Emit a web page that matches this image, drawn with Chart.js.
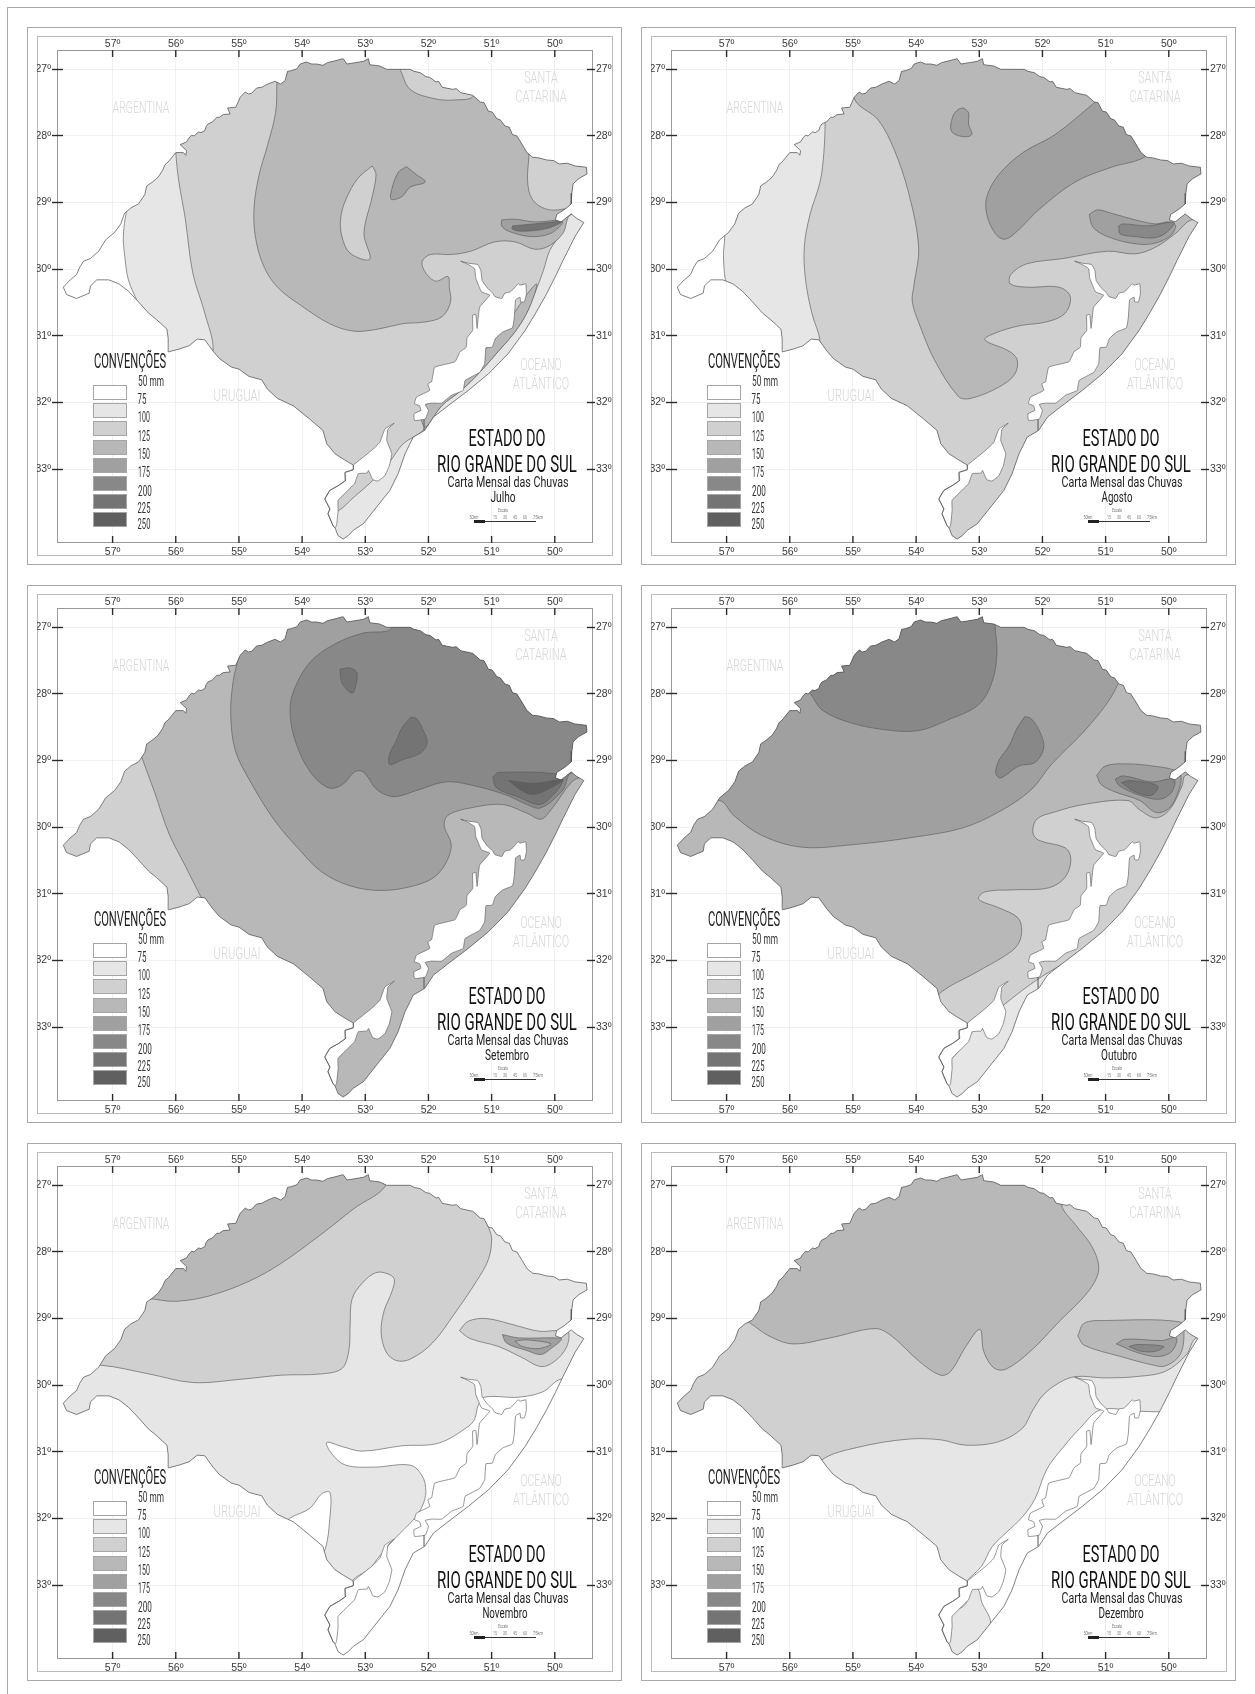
<!DOCTYPE html>
<html lang="pt">
<head>
<meta charset="utf-8">
<title>Carta Mensal das Chuvas</title>
<script src="https://cdn.jsdelivr.net/npm/chart.js"></script>
<style>
  html, body { margin: 0; background: #fff; }
  body { position: relative; width: 1255px; height: 1694px; overflow: hidden; font-family: Roboto, sans-serif; }
  .box { position: absolute; box-sizing: border-box; }
  .panel { position: absolute; width: 640px; height: 570px; }
  .panel canvas { position: absolute; left: 37px; top: 36px; }
  .txt { position: absolute; white-space: nowrap; line-height: 1; font-weight: 400; }
</style>
</head>
<body>
<div class="box" style="left:7px;top:7px;width:1300px;height:1800px;border:1.2px solid #aaa"></div>
<script>
const lonTicks = [57, 56, 55, 54, 53, 52, 51, 50];
const latTicks = [27, 28, 29, 30, 31, 32, 33];
const months = ['Julho', 'Agosto', 'Setembro', 'Outubro', 'Novembro', 'Dezembro'];
const legendLabels = ['50 mm', '75', '100', '125', '150', '175', '200', '225', '250'];
const bandShades = ['#ffffff', '#e6e6e6', '#d0d0d0', '#b8b8b8', '#a0a0a0', '#888888', '#747474', '#606060'];
const baseBands = [0, 0, 2, 1, 0, 0];

const stateOutline = [57.78,30.27, 57.67,30.16, 57.57,30.08, 57.52,29.97, 57.46,29.88, 57.35,29.84, 57.22,29.73, 57.11,29.56, 56.97,29.45, 56.87,29.32,
  56.81,29.16, 56.71,29.08, 56.59,29.02, 56.49,28.88, 56.46,28.75, 56.38,28.70, 56.28,28.62, 56.21,28.52, 56.17,28.43, 56.12,28.39,
  56.0,28.25, 55.88,28.25, 55.84,28.29, 55.83,28.22, 55.93,28.13, 55.83,28.09, 55.79,28.03, 55.75,27.99, 55.71,28.0, 55.64,27.94,
  55.60,27.95, 55.54,27.92, 55.52,27.86, 55.49,27.82, 55.42,27.79, 55.35,27.72, 55.31,27.72, 55.25,27.68, 55.14,27.67, 55.18,27.58,
  55.05,27.57, 54.98,27.42, 54.90,27.34, 54.85,27.37, 54.80,27.36, 54.72,27.28, 54.64,27.27, 54.54,27.22, 54.43,27.18, 54.34,27.22,
  54.27,27.17, 54.23,27.03, 54.17,27.02, 54.08,26.99, 54.03,26.92, 53.93,26.89, 53.85,26.92, 53.77,26.92, 53.67,26.94, 53.60,26.90,
  53.51,26.88, 53.35,26.84, 53.29,26.92, 53.16,26.90, 53.03,26.88, 52.95,26.84, 52.93,26.93, 52.77,26.95, 52.66,27.0, 52.48,27.0,
  52.29,27.0, 52.23,27.03, 52.13,27.05, 52.04,27.11, 51.98,27.12, 51.88,27.19, 51.84,27.18, 51.78,27.27, 51.62,27.30, 51.56,27.29,
  51.49,27.35, 51.30,27.39, 51.18,27.49, 51.12,27.50, 51.05,27.63, 50.99,27.64, 50.92,27.74, 50.86,27.76, 50.79,27.85, 50.72,27.87,
  50.67,27.98, 50.60,28.0, 50.54,28.09, 50.44,28.25, 50.35,28.32, 50.25,28.33, 50.13,28.36, 50.02,28.37, 49.93,28.42, 49.80,28.41,
  49.68,28.45, 49.50,28.47, 49.49,28.57, 49.62,28.64, 49.71,28.72, 49.73,28.86, 49.74,29.02, 49.84,29.10, 49.97,29.18, 49.99,29.26,
  49.90,29.29, 49.74,29.17, 49.65,29.24, 49.54,29.30, 49.68,29.51, 49.79,29.72, 49.87,29.87, 49.97,30.07, 50.13,30.37, 50.29,30.64,
  50.47,30.92, 50.74,31.27, 51.05,31.57, 51.37,31.82, 51.69,32.05, 51.92,32.22, 52.06,32.42, 52.24,32.52, 52.37,32.77, 52.48,33.07,
  52.61,33.32, 52.82,33.57, 53.03,33.82, 53.19,33.92, 53.27,34.0, 53.35,34.05, 53.43,34.0, 53.48,33.88, 53.51,33.85, 53.59,33.67,
  53.56,33.60, 53.64,33.45, 53.56,33.32, 53.43,33.25, 53.31,33.17, 53.32,33.05, 53.19,33.01, 53.19,32.94, 53.35,32.85, 53.48,32.77,
  53.61,32.62, 53.67,32.42, 53.88,32.25, 54.14,32.05, 54.39,31.94, 54.55,31.80, 54.64,31.66, 54.84,31.61, 55.0,31.50, 55.12,31.47,
  55.31,31.34, 55.41,31.23, 55.54,31.06, 55.66,31.05, 55.79,31.15, 55.95,31.20, 56.11,31.24, 56.12,31.04, 56.14,30.90, 56.30,30.76,
  56.43,30.66, 56.59,30.49, 56.75,30.33, 56.90,30.22, 57.06,30.16, 57.25,30.16, 57.35,30.25, 57.37,30.36, 57.57,30.44, 57.73,30.38];

const lagoaDosPatos = [51.49,29.88, 51.37,29.91, 51.22,29.93, 51.17,30.02, 51.15,30.17, 51.07,30.28, 50.98,30.36, 50.95,30.41, 50.84,30.44, 50.79,30.36,
  50.70,30.34, 50.63,30.27, 50.58,30.22, 50.55,30.24, 50.46,30.22, 50.45,30.37, 50.48,30.49, 50.54,30.49, 50.55,30.42, 50.62,30.46,
  50.64,30.72, 50.67,30.88, 50.82,30.94, 50.94,31.04, 50.99,31.17, 51.09,31.18, 51.11,31.42, 51.19,31.55, 51.42,31.67, 51.45,31.82,
  51.63,31.89, 51.79,32.01, 51.95,32.01, 52.05,32.03, 52.00,32.12, 52.05,32.25, 52.22,32.27, 52.23,32.17, 52.12,32.12, 52.14,32.05,
  52.22,32.02, 52.19,31.92, 51.98,31.82, 52.01,31.72, 51.95,31.69, 51.90,31.47, 51.58,31.39, 51.50,31.24, 51.40,31.17, 51.39,31.03,
  51.30,30.92, 51.30,30.69, 51.25,30.68, 51.23,30.89, 51.19,30.57, 51.03,30.39, 51.16,30.34, 51.25,30.14, 51.27,29.99, 51.37,29.93];
const lagoaMirim = [53.19,32.94, 52.90,32.72, 52.77,32.60, 52.69,32.40, 52.54,32.31, 52.64,32.40, 52.66,32.57, 52.58,32.77, 52.62,32.95, 52.69,33.10,
  52.80,33.18, 52.88,33.16, 52.95,33.02, 52.97,33.06, 53.11,33.07, 53.17,33.22, 53.43,33.47, 53.43,33.62, 53.455,33.85, 53.48,33.88,
  53.51,33.85, 53.59,33.67, 53.56,33.60, 53.64,33.45, 53.56,33.32, 53.43,33.25, 53.31,33.17, 53.32,33.05, 53.19,33.01];
const barraRioGrande = [52.07,32.25, 52.07,32.42];

// [faixa, contorno] na ordem de pintura, cada faixa cobre a anterior
const julhoZones = [
  [1, [56.68,28.80, 56.78,29.13, 56.83,29.51, 56.81,29.78, 56.75,30.16, 56.59,30.52, 56.43,30.87, 56.11,34.15, 49.1,34.15, 49.1,26.5, 56.68,26.5]],
  [2, [56.11,26.51, 56.0,28.25, 55.95,28.69, 55.85,29.24, 55.73,30.06, 55.54,30.66, 55.41,31.23, 55.6,31.42, 54.96,33.06, 53.69,33.71,
    53.43,33.63, 53.19,33.43, 52.88,33.17, 52.62,32.90, 52.40,32.62, 52.08,32.42, 51.79,32.05, 51.48,31.82, 51.19,31.55, 50.90,31.24,
    50.63,30.94, 50.45,30.67, 50.32,30.37, 50.18,30.02, 50.08,29.72, 49.90,29.46, 49.76,29.18, 49.11,29.18, 49.11,26.51]],
  [3, [54.40,26.51, 54.40,27.22, 54.42,27.65, 54.55,28.15, 54.68,28.58, 54.76,29.07, 54.74,29.51, 54.61,29.95, 54.39,30.27, 54.01,30.55,
    53.56,30.82, 53.18,30.93, 52.80,30.90, 52.42,30.82, 52.04,30.79, 51.78,30.71, 51.65,30.49, 51.67,30.27, 51.69,30.11, 51.88,30.18,
    52.04,30.06, 52.10,29.89, 51.97,29.78, 51.65,29.78, 51.33,29.73, 50.95,29.59, 50.63,29.59, 50.32,29.70, 50.09,29.65, 49.87,29.46,
    49.74,29.18, 49.11,29.18, 49.11,26.51]],
  [2, [52.45,27.0, 52.29,27.30, 51.91,27.44, 51.59,27.46, 51.28,27.39, 51.28,26.78, 52.45,26.78]],
  [2, [50.41,28.15, 50.41,28.30, 50.43,28.69, 50.35,28.96, 50.13,29.10, 49.88,29.10, 49.62,29.02, 49.36,28.42]],
  [3, [50.48,30.42, 50.29,30.22, 50.32,30.37, 50.45,30.67, 50.63,30.94, 50.90,31.24, 51.19,31.55, 51.48,31.82, 51.79,32.05, 52.05,32.37,
    52.10,32.10, 51.50,31.60, 51.0,31.10, 50.60,30.60]],
  [2, [52.89,28.45, 53.12,28.64, 53.31,28.96, 53.39,29.24, 53.37,29.51, 53.24,29.76, 52.93,29.85, 53.02,29.46, 52.89,28.91, 52.83,28.58]],
  [4, [52.35,28.46, 52.48,28.55, 52.58,28.80, 52.59,28.95, 52.42,28.91, 52.29,28.77, 52.05,28.69, 52.19,28.58]],
  [4, [50.84,29.26, 50.63,29.25, 50.32,29.29, 49.88,29.28, 50.06,29.46, 50.38,29.51, 50.73,29.43, 50.84,29.35]],
  [6, [50.67,29.35, 50.32,29.32, 49.90,29.29, 50.13,29.39, 50.51,29.43, 50.67,29.40]],
];
const agostoZones = [
  [1, [57.08,26.51, 57.03,29.52, 57.05,29.78, 57.02,30.16, 56.96,30.33, 56.89,34.15, 49.13,34.15, 49.13,26.51]],
  [2, [55.44,26.51, 55.44,27.76, 55.46,28.25, 55.52,28.69, 55.68,29.18, 55.77,29.67, 55.75,30.16, 55.65,30.66, 55.52,31.09, 55.59,31.42,
    55.59,34.15, 49.13,34.15, 49.13,26.51]],
  [3, [54.98,26.51, 54.98,27.43, 54.60,27.76, 54.35,28.20, 54.12,28.85, 53.96,29.67, 54.03,30.22, 54.06,30.49, 53.93,30.87, 53.71,31.36,
    53.33,31.91, 53.14,31.94, 52.69,31.77, 52.44,31.58, 52.40,31.36, 52.53,31.23, 52.91,31.06, 52.75,30.96, 52.37,30.85, 51.93,30.79,
    51.64,30.66, 51.56,30.41, 51.74,30.27, 52.25,30.27, 52.51,30.22, 52.50,30.08, 52.25,29.92, 51.67,29.84, 50.97,29.73, 50.53,29.77,
    50.21,29.67, 49.89,29.46, 49.64,29.26, 49.13,29.24, 49.13,26.51]],
  [4, [51.20,27.52, 51.80,27.98, 52.31,28.25, 52.69,28.58, 52.88,28.91, 52.88,29.18, 52.75,29.46, 52.60,29.55, 52.40,29.43, 52.05,29.10,
    51.48,28.69, 50.91,28.47, 50.37,28.31, 49.89,27.87, 50.85,27.22]],
  [4, [53.25,27.58, 53.33,27.60, 53.42,27.71, 53.44,27.93, 53.26,28.01, 53.12,27.98, 53.17,27.82, 53.17,27.65]],
  [4, [51.26,29.18, 51.13,29.11, 50.91,29.16, 50.53,29.26, 50.21,29.32, 49.99,29.29, 49.89,29.35, 49.99,29.51, 50.27,29.62, 50.59,29.61,
    50.97,29.51, 51.20,29.37]],
  [5, [50.79,29.35, 50.72,29.32, 50.34,29.35, 49.92,29.30, 50.05,29.46, 50.24,29.53, 50.53,29.51, 50.77,29.47]],
];
const setembroZones = [
  [3, [56.55,28.92, 56.33,29.49, 56.11,30.09, 55.85,30.58, 55.60,31.05, 55.41,31.40, 55.41,34.19, 49.11,34.19, 49.11,26.49, 56.55,26.49]],
  [4, [55.01,26.49, 55.01,27.42, 55.09,27.80, 55.13,28.29, 55.06,28.84, 54.84,29.28, 54.45,29.88, 54.07,30.31, 53.69,30.67, 53.24,30.88,
    52.74,30.95, 52.23,30.88, 51.91,30.75, 51.72,30.53, 51.64,30.26, 51.75,29.98, 51.69,29.82, 51.33,29.71, 50.83,29.66, 50.44,29.79,
    50.22,29.88, 50.06,29.74, 49.74,29.33, 49.58,29.25, 49.11,29.23, 49.11,26.49]],
  [5, [52.58,26.49, 52.58,27.01, 53.05,27.09, 53.50,27.26, 53.88,27.53, 54.14,27.97, 54.19,28.29, 54.10,28.73, 53.87,29.17, 53.58,29.41,
    53.36,29.36, 53.17,29.17, 53.03,29.17, 52.81,29.44, 52.54,29.54, 52.16,29.44, 51.72,29.32, 51.27,29.38, 50.76,29.52, 50.44,29.66,
    50.22,29.71, 49.87,29.44, 49.74,29.19, 49.11,29.17, 49.11,26.49]],
  [6, [50.98,29.25, 50.89,29.18, 49.97,29.20, 49.87,29.30, 50.06,29.55, 50.25,29.66, 50.57,29.55, 50.92,29.41]],
  [7, [50.73,29.30, 50.32,29.34, 49.88,29.29, 50.13,29.44, 50.35,29.51, 50.54,29.44]],
  [6, [52.28,28.35, 52.42,28.51, 52.51,28.70, 52.62,28.92, 52.61,29.06, 52.42,28.99, 52.13,28.89, 52.02,28.73, 52.10,28.51, 52.19,28.37]],
  [6, [53.40,27.63, 53.24,27.61, 53.13,27.69, 53.18,27.97, 53.24,27.98, 53.37,27.83]],
];
const outubroZones = [
  [2, [51.64,32.03, 52.07,32.28, 52.60,32.66, 52.79,32.85, 53.04,32.99, 53.26,33.29, 53.55,33.59, 53.77,33.86, 58.16,33.86, 58.16,26.49, 49.13,26.49, 49.13,32.03]],
  [3, [58.16,26.49, 58.16,32.77, 53.84,32.77, 53.61,32.48, 53.07,32.19, 52.53,31.89, 52.37,31.73, 52.33,31.51, 52.40,31.35, 52.69,31.21,
    53.01,31.08, 52.91,30.97, 52.44,30.94, 51.90,30.91, 51.64,30.75, 51.55,30.48, 51.64,30.31, 52.05,30.20, 52.15,30.09, 52.09,29.88,
    51.80,29.77, 51.35,29.66, 50.65,29.60, 50.46,29.74, 50.21,29.86, 49.99,29.74, 49.79,29.38, 49.73,29.22, 49.13,29.17, 49.13,26.49]],
  [4, [58.16,26.49, 58.16,29.60, 57.11,29.60, 56.89,29.82, 56.45,30.12, 55.81,30.30, 54.98,30.26, 54.03,30.15, 53.26,30.01, 52.69,29.77,
    52.18,29.44, 51.86,29.06, 51.35,28.57, 50.97,28.13, 50.78,27.80, 50.59,27.31, 50.59,26.49]],
  [5, [55.81,26.49, 55.81,27.91, 55.68,27.99, 55.49,28.24, 55.05,28.43, 54.47,28.54, 53.96,28.55, 53.52,28.40, 53.01,28.16, 52.79,27.80,
    52.72,27.37, 52.75,26.98, 52.75,26.49]],
  [5, [52.28,28.34, 52.40,28.51, 52.53,28.78, 52.69,29.0, 52.74,29.19, 52.66,29.26, 52.37,29.08, 52.12,29.03, 51.98,28.81, 52.04,28.57, 52.18,28.37]],
  [4, [51.14,29.22, 51.0,29.08, 50.65,29.05, 50.27,29.08, 49.92,29.14, 49.81,29.22, 49.84,29.44, 49.99,29.71, 50.20,29.78, 50.46,29.60,
    50.85,29.47, 51.07,29.36]],
  [5, [50.85,29.28, 50.72,29.23, 50.27,29.32, 49.92,29.28, 49.95,29.47, 50.14,29.58, 50.46,29.52, 50.78,29.38]],
  [6, [50.75,29.33, 50.62,29.30, 50.18,29.38, 50.27,29.52, 50.53,29.47]],
];
const novembroZones = [
  [1, [58.15,26.48, 49.11,26.48, 49.11,29.91, 49.90,29.91, 50.19,30.10, 50.57,30.18, 51.11,30.18, 51.21,30.30, 51.27,30.51, 51.37,30.62,
    51.84,30.87, 52.42,30.91, 53.05,30.99, 53.37,30.92, 53.61,30.86, 53.53,31.03, 53.31,31.20, 52.86,31.23, 52.29,31.20, 52.10,31.36,
    52.04,31.60, 52.10,31.82, 52.23,32.01, 52.54,32.31, 52.77,32.56, 52.93,32.75, 53.18,32.91, 53.31,33.08, 53.75,32.64, 53.63,32.45,
    53.56,31.99, 53.56,31.61, 53.69,31.63, 53.88,31.85, 54.20,32.0, 54.33,32.15, 58.15,32.15]],
  [2, [51.06,26.48, 51.06,27.57, 51.0,27.79, 51.05,28.11, 51.24,28.44, 51.59,28.93, 51.94,29.37, 52.29,29.61, 52.51,29.63, 52.67,29.50,
    52.75,29.20, 52.70,28.88, 52.58,28.60, 52.54,28.41, 52.64,28.33, 52.83,28.31, 53.05,28.47, 53.21,28.71, 53.24,29.10, 53.26,29.48,
    53.37,29.75, 53.69,29.83, 54.33,29.85, 54.96,29.91, 55.73,29.96, 56.43,29.83, 57.19,29.70, 58.15,29.70, 58.15,26.48]],
  [3, [56.49,26.48, 56.49,28.66, 56.33,28.71, 55.98,28.74, 55.47,28.66, 54.84,28.44, 54.33,28.17, 53.69,27.73, 53.18,27.35, 52.67,26.99, 52.67,26.48]],
  [2, [51.51,29.18, 51.37,29.04, 51.08,29.0, 50.63,29.10, 50.25,29.19, 49.97,29.18, 49.79,29.19, 49.81,29.42, 50.0,29.64, 50.22,29.72,
    50.51,29.59, 50.89,29.42, 51.34,29.30]],
  [4, [50.83,29.24, 50.57,29.29, 49.97,29.29, 49.89,29.31, 50.06,29.45, 50.22,29.54, 50.44,29.48, 50.76,29.37]],
  [3, [50.63,29.34, 50.44,29.32, 50.06,29.38, 50.25,29.45, 50.51,29.42]],
];
const dezembroZones = [
  [1, [58.15,26.49, 48.95,26.49, 48.95,30.40, 50.13,30.40, 50.50,30.39, 51.08,30.37, 51.41,30.65, 51.67,30.93, 51.93,31.26, 52.12,31.71,
    52.32,31.98, 52.57,32.21, 52.80,32.43, 52.96,32.71, 53.19,32.93, 53.35,33.10, 53.87,32.60, 58.15,32.60]],
  [1, [53.42,33.40, 53.22,33.29, 53.13,33.05, 53.02,33.06, 52.96,33.26, 52.82,33.57, 52.96,34.26, 53.74,34.26, 53.61,33.71]],
  [2, [58.15,26.49, 48.95,26.49, 48.95,29.26, 49.56,29.29, 49.72,29.54, 50.05,29.79, 50.50,29.87, 51.02,29.89, 51.47,29.87, 51.73,29.96,
    51.99,30.15, 52.15,30.37, 52.32,30.65, 52.70,30.85, 53.22,30.90, 53.61,30.82, 54.13,30.81, 54.91,30.93, 55.49,31.12, 55.56,31.37, 58.15,31.37]],
  [3, [56.79,26.49, 56.79,28.99, 56.64,29.06, 56.33,29.26, 55.95,29.38, 55.36,29.29, 54.65,29.15, 54.39,29.26, 53.94,29.65, 53.61,29.85,
    53.45,29.79, 53.22,29.43, 52.99,29.16, 52.93,29.49, 52.77,29.74, 52.58,29.76, 52.19,29.49, 51.73,29.04, 51.28,28.60, 51.11,28.27,
    51.21,27.93, 51.47,27.60, 51.70,27.29, 51.73,26.49]],
  [3, [51.44,29.26, 51.34,29.07, 51.02,29.03, 49.82,29.05, 49.76,29.21, 49.82,29.54, 50.05,29.71, 50.24,29.70, 50.76,29.57, 51.34,29.40]],
  [4, [50.83,29.38, 50.69,29.31, 50.11,29.33, 49.88,29.29, 49.95,29.49, 50.17,29.57, 50.50,29.51]],
  [5, [50.63,29.42, 50.50,29.39, 50.08,29.42, 50.21,29.49, 50.44,29.49]],
];
const monthZones = [julhoZones, agostoZones, setembroZones, outubroZones, novembroZones, dezembroZones];

const panelOrigins = [[0, 0], [614, 0], [0, 558], [614, 558], [0, 1116], [614, 1116]];
const monthCenters = [[503, 25], [503, 31], [507, 44], [505, 36], [505, 45], [507, 45]];

const toPoints = flat => {
  const out = [];
  for (let i = 0; i < flat.length; i += 2) out.push({ x: flat[i], y: flat[i + 1] });
  return out;
};
const closed = flat => toPoints(flat.concat(flat[0], flat[1]));

// recorta as faixas de chuva pelo contorno do estado
const stateClip = {
  id: 'stateClip',
  beforeDatasetsDraw(chart) {
    const { ctx, scales } = chart;
    ctx.save();
    ctx.beginPath();
    toPoints(stateOutline).forEach((p, i) => {
      const px = scales.x.getPixelForValue(p.x), py = scales.y.getPixelForValue(p.y);
      i ? ctx.lineTo(px, py) : ctx.moveTo(px, py);
    });
    ctx.closePath();
    ctx.clip();
  },
  afterDatasetDraw(chart, args) {
    if (chart.data.datasets[args.index].endsClip) chart.ctx.restore();
  },
};

// tracinhos das longitudes, para dentro do quadro em cima e embaixo
const lonMarks = {
  id: 'lonMarks',
  afterDatasetsDraw(chart) {
    const { ctx, scales, chartArea } = chart;
    ctx.save();
    ctx.strokeStyle = '#2b2b2b';
    ctx.lineWidth = 1.4;
    lonTicks.forEach(v => {
      const px = scales.x.getPixelForValue(v);
      ctx.beginPath();
      ctx.moveTo(px, chartArea.top);
      ctx.lineTo(px, chartArea.top + 7);
      ctx.moveTo(px, chartArea.bottom - 7);
      ctx.lineTo(px, chartArea.bottom);
      ctx.stroke();
    });
    ctx.restore();
  },
};

function shape(flat, fillColor, extra) {
  return {
    data: closed(flat), showLine: true, fill: fillColor ? 'shape' : false,
    backgroundColor: fillColor || 'transparent', borderColor: '#5c5c5c', borderWidth: 0.65,
    pointRadius: 0, tension: 0.35, capBezierPoints: false, clip: false, ...extra,
  };
}

function axisFor(axis, position, ticks, size, tickLength, padding, onArea, min, max) {
  return {
    type: 'linear', axis, position, min, max, reverse: axis === 'x',
    afterBuildTicks: s => { s.ticks = ticks.map(v => ({ value: v })); },
    afterFit: s => { if (axis === 'x') s.height = size; else s.width = size; },
    border: { display: false },
    grid: { color: '#ececec', lineWidth: 0.8, drawOnChartArea: onArea, drawTicks: axis === 'y', tickColor: '#2b2b2b', tickWidth: 1.4, tickLength },
    ticks: { autoSkip: false, maxRotation: 0, padding, color: '#3a3a3a',
      font: { family: "'Liberation Sans'", size: 10.5 }, callback: v => v + 'º' },
  };
}

function addText(parent, text, cx, cy, size, width, color, weight) {
  const el = document.createElement('span');
  el.className = 'txt';
  el.textContent = text;
  el.style.fontSize = size + 'px';
  el.style.color = color;
  if (weight) el.style.fontWeight = weight;
  parent.appendChild(el);
  const k = width / el.offsetWidth;
  el.style.left = cx + 'px';
  el.style.top = cy + 'px';
  el.style.transform = `translate(-50%,-50%) scaleX(${k})`;
}

function addBox(parent, l, t, w, h, css) {
  const el = document.createElement('div');
  el.className = 'box';
  el.style.cssText = `left:${l}px;top:${t}px;width:${w}px;height:${h}px;${css}`;
  parent.appendChild(el);
}

months.forEach((month, m) => {
  const panel = document.createElement('div');
  panel.className = 'panel';
  panel.style.left = panelOrigins[m][0] + 'px';
  panel.style.top = panelOrigins[m][1] + 'px';
  document.body.appendChild(panel);

  addBox(panel, 27, 27, 595, 538, 'border:1.6px solid #aaa');
  addBox(panel, 37, 36, 576, 520, 'border:1.6px solid #bbb');
  addBox(panel, 57, 50, 536, 493, 'border:1px solid #999');

  const canvas = document.createElement('canvas');
  canvas.width = 576;
  canvas.height = 520;
  panel.appendChild(canvas);

  const zones = monthZones[m];
  const painted = [shape(stateOutline, bandShades[baseBands[m]], { tension: 0, borderWidth: 0 })];
  zones.forEach(([band, flat]) => painted.push(shape(flat, bandShades[band])));
  painted[painted.length - 1].endsClip = true;
  painted.push(shape(lagoaDosPatos, '#fff', { tension: 0.1 }));
  painted.push(shape(lagoaMirim, '#fff', { tension: 0.1 }));
  painted.push(shape(barraRioGrande, null, { tension: 0 }));
  painted.push(shape(stateOutline, null, { tension: 0, borderColor: '#4a4a4a', borderWidth: 0.7 }));

  const lonMin = 49.49, lonMax = 57.785, latMin = 26.71, latMax = 34.11;
  new Chart(canvas, {
    type: 'scatter',
    data: { datasets: painted.reverse() }, // o Chart.js desenha do ultimo para o primeiro
    options: {
      responsive: false, animation: false,
      layout: { padding: 0 },
      plugins: { legend: { display: false }, tooltip: { enabled: false } },
      scales: {
        x: axisFor('x', 'bottom', lonTicks, 13, 0, 2.5, true, lonMin, lonMax),
        xTop: axisFor('x', 'top', lonTicks, 14, 0, 0, false, lonMin, lonMax),
        y: { ...axisFor('y', 'left', latTicks, 26, 11, 1, true, latMin, latMax), reverse: true },
        yRight: { ...axisFor('y', 'right', latTicks, 26, 8, 1, false, latMin, latMax), reverse: true },
      },
    },
    plugins: [stateClip, lonMarks],
  });

  // textos da carta
  const pale = '#d6d6d6';
  addText(panel, 'ARGENTINA', 140.7, 108, 16, 57, pale, 300);
  addText(panel, 'SANTA', 540.7, 78, 16, 34, pale, 300);
  addText(panel, 'CATARINA', 540.7, 97, 16, 51, pale, 300);
  addText(panel, 'URUGUAI', 237, 395.5, 16, 47, pale, 300);
  addText(panel, 'OCEANO', 540.7, 364.6, 16, 42, pale, 300);
  addText(panel, 'ATLÂNTICO', 540.7, 383.5, 16, 56, pale, 300);
  addText(panel, 'CONVENÇÕES', 129.5, 360.6, 20, 72, '#1e1e1e');
  addText(panel, 'ESTADO DO', 506.5, 438, 24.5, 77, '#111');
  addText(panel, 'RIO GRANDE DO SUL', 506.5, 463.5, 24.5, 140, '#111');
  addText(panel, 'Carta Mensal das Chuvas', 507.5, 481.6, 15, 121, '#222');
  addText(panel, month, monthCenters[m][0], 497, 15, monthCenters[m][1], '#222');

  // legenda
  bandShades.forEach((c, i) => {
    addBox(panel, 93, 385 + 18.2 * i, 34, 15, `background:${c};border:1px solid #a5a5a5`);
  });
  const legendY = [381, 399, 417, 436, 454.4, 471.5, 491, 508, 524];
  const legendW = [26, 9, 12, 12, 12, 12, 14, 13, 13];
  legendLabels.forEach((t, i) => {
    addText(panel, t, 137.5 + legendW[i] / 2, legendY[i], 14, legendW[i], '#333');
  });

  // escala grafica
  addText(panel, 'Escala', 503, 509.6, 6, 10, '#777');
  [['50km', 474.4, 9], ['15', 495, 4], ['30', 504.5, 4], ['45', 514.6, 4], ['60', 525.4, 4], ['75km', 537.5, 10]]
    .forEach(([t, x, w]) => addText(panel, t, x, 517, 6, w, '#777'));
  addBox(panel, 473.6, 521, 62, 1.2, 'background:#333');
  addBox(panel, 473.6, 520.4, 11, 2.4, 'background:#222');
});
</script>
</body>
</html>
